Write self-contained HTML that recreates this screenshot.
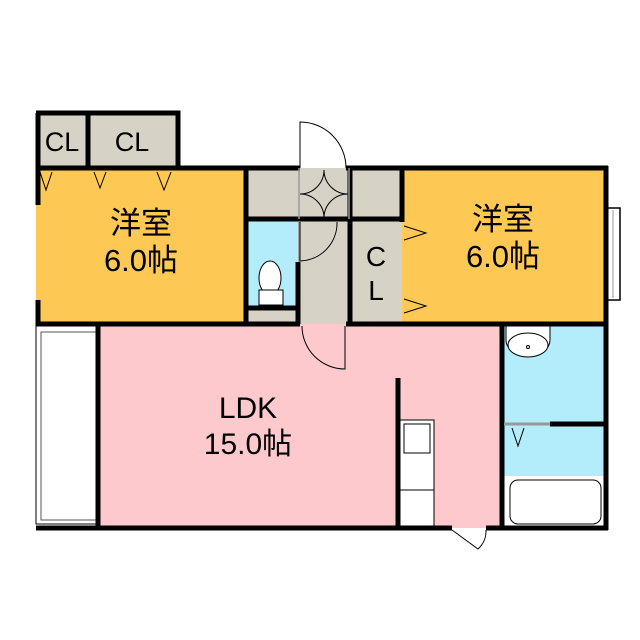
<!DOCTYPE html>
<html><head><meta charset="utf-8"><style>body{margin:0;background:#fff}svg{display:block}text{font-family:"Liberation Sans","Noto Sans CJK JP",sans-serif;fill:#000}</style></head><body>
<svg width="640" height="640" viewBox="0 0 640 640" xmlns="http://www.w3.org/2000/svg">
<rect x="36" y="115" width="140" height="53" fill="#d6d3c6"/>
<rect x="36" y="168" width="210" height="156" fill="#fdc853"/>
<rect x="402" y="168" width="206" height="156" fill="#fdc853"/>
<rect x="246" y="168" width="156" height="156" fill="#d6d3c6"/>
<rect x="246" y="219" width="52" height="89" fill="#b3ecfb"/>
<rect x="98" y="324" width="404" height="204" fill="#fdc9cc"/>
<rect x="502" y="324" width="106" height="152" fill="#b3ecfb"/>
<rect x="502" y="476" width="106" height="52" fill="#fff"/>
<rect x="36" y="324" width="62" height="200" fill="#fff" stroke="#000" stroke-width="1"/>
<rect x="41" y="332" width="56" height="188" fill="#fff" stroke="#555" stroke-width="1"/>
<rect x="607" y="208" width="13" height="92" fill="#fff" stroke="#000" stroke-width="1.5"/>
<line x1="613" y1="210" x2="613" y2="298" stroke="#999"/>
<rect x="400" y="420" width="34" height="108" fill="#fff" stroke="#000" stroke-width="1"/>
<rect x="404" y="424" width="26" height="29" fill="#fff" stroke="#000" stroke-width="1"/>
<line x1="400" y1="490" x2="434" y2="490" stroke="#000"/>
<rect x="510" y="480" width="91" height="44" rx="8" fill="#fff" stroke="#000" stroke-width="1"/>
<g stroke="#000" stroke-width="5" fill="none">
<path d="M36 113 H178 V168"/>
<line x1="88" y1="113" x2="88" y2="168"/>
<line x1="38" y1="113" x2="38" y2="205"/>
<line x1="38" y1="300" x2="38" y2="326"/>
<line x1="36" y1="168" x2="300" y2="168"/>
<line x1="346" y1="168" x2="608" y2="168"/>
<line x1="606" y1="166" x2="606" y2="530"/>
<line x1="36" y1="324" x2="300" y2="324"/>
<line x1="346" y1="324" x2="608" y2="324"/>
<line x1="246" y1="168" x2="246" y2="324"/>
<line x1="298" y1="262" x2="298" y2="324"/>
<line x1="350" y1="168" x2="350" y2="324"/>
<line x1="402" y1="168" x2="402" y2="222"/>
<line x1="246" y1="219" x2="402" y2="219"/>
<line x1="246" y1="308" x2="298" y2="308"/>
<line x1="98" y1="324" x2="98" y2="530"/>
<line x1="36" y1="528" x2="452" y2="528"/>
<line x1="486" y1="528" x2="608" y2="528"/>
<line x1="502" y1="324" x2="502" y2="528"/>
<line x1="550" y1="424" x2="608" y2="424"/>
<line x1="398" y1="378" x2="398" y2="528"/>
</g>
<g stroke="#999" stroke-width="1.5"><line x1="299" y1="168" x2="299" y2="219"/><line x1="299" y1="222" x2="299" y2="262"/><line x1="349" y1="168" x2="349" y2="219"/></g>
<line x1="504" y1="424" x2="550" y2="424" stroke="#999" stroke-width="3"/>
<g stroke="#000" stroke-width="1" fill="none">
<path d="M300 168 V122 A46 46 0 0 1 346 168"/>
<path d="M345 326 V369 A43 43 0 0 1 302 326"/>
<path d="M300 222 V261 A38 38 0 0 0 337 222"/>
<path d="M324 170 A24 24 0 0 1 300 194 M324 170 A24 24 0 0 0 348 194 M300 194 A24 24 0 0 1 324 218 M348 194 A24 24 0 0 0 324 218"/>
<path d="M452 530 L478 549 A24 24 0 0 0 486 530"/>
<path d="M40 172 L46 190 L52 172 M94 172 L100 188 L106 172 M157 172 L164 190 L171 172"/>
<path d="M404 226 L426 233 L404 240 M404 299 L426 306 L404 313"/>
<path d="M512 428 L518 446 L524 428"/>
</g>
<path d="M506 326 H550 V340 A22 16 0 0 1 506 340 Z" fill="#fff" stroke="#000"/>
<ellipse cx="528" cy="345" rx="20" ry="12" fill="#fff" stroke="#000"/>
<circle cx="528" cy="347" r="1.5" fill="none" stroke="#000"/>
<ellipse cx="270" cy="278" rx="11" ry="17" fill="#fff" stroke="#000"/>
<rect x="259" y="290" width="24" height="15" fill="#fff" stroke="#000"/>
<text x="62" y="151" font-size="27" text-anchor="middle">CL</text>
<text x="132" y="151" font-size="27" text-anchor="middle">CL</text>
<text x="376" y="266" font-size="28" text-anchor="middle">C</text>
<text x="376" y="300" font-size="28" text-anchor="middle">L</text>
<text x="141" y="234" font-size="31" text-anchor="middle">洋室</text>
<text x="141" y="271" font-size="31" text-anchor="middle">6.0帖</text>
<text x="503" y="230" font-size="31" text-anchor="middle">洋室</text>
<text x="503" y="267" font-size="31" text-anchor="middle">6.0帖</text>
<text x="248" y="418" font-size="30" text-anchor="middle">LDK</text>
<text x="248" y="454" font-size="30" text-anchor="middle">15.0帖</text>
</svg>
</body></html>
